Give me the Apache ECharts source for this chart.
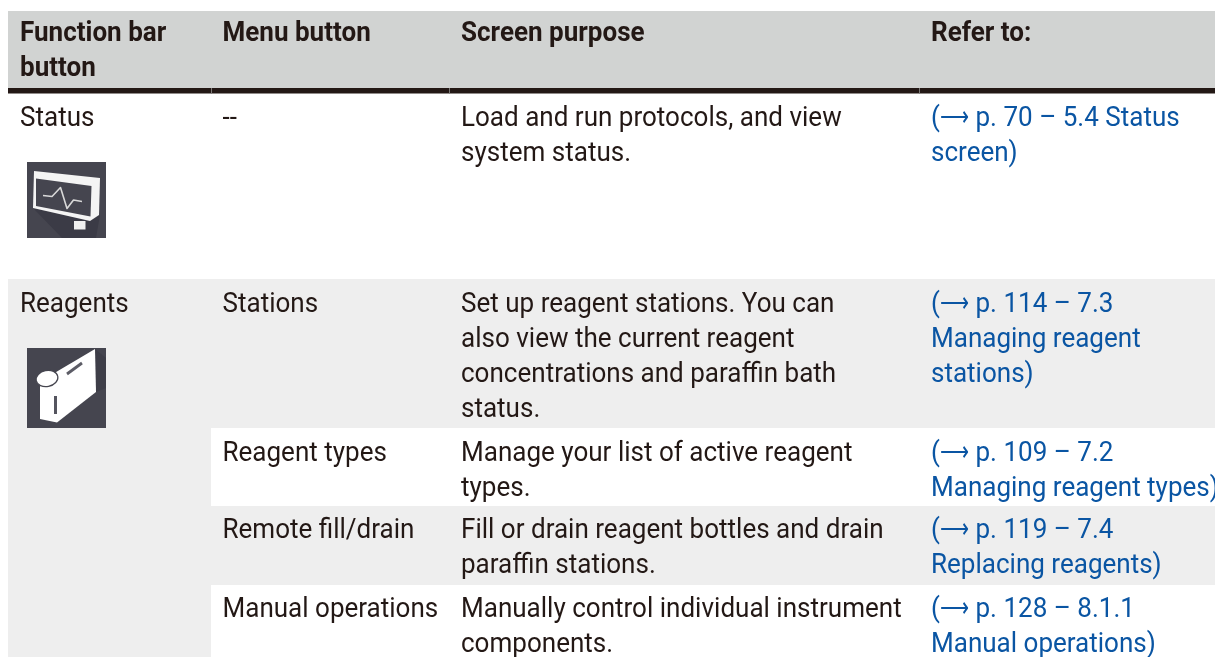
<!DOCTYPE html>
<html><head><meta charset="utf-8">
<style>html,body{margin:0;padding:0;background:#fff}#c{width:1215px;height:657px}</style>
<script src="https://cdn.jsdelivr.net/npm/echarts@6/dist/echarts.min.js"></script>
</head><body><div id="c"></div>
<script>
const headers = [["Function bar","button"],["Menu button"],["Screen purpose"],["Refer to:"]];
const col1 = [["Status"],["Reagents"]];
const col2 = [["--"],["Stations"],["Reagent types"],["Remote fill/drain"],["Manual operations"]];
const col3 = [
 ["Load and run protocols, and view","system status."],
 ["Set up reagent stations. You can","also view the current reagent","concentrations and paraffin bath","status."],
 ["Manage your list of active reagent","types."],
 ["Fill or drain reagent bottles and drain","paraffin stations."],
 ["Manually control individual instrument","components."]];
const col4 = [
 ["(→ p. 70 – 5.4 Status","screen)"],
 ["(→ p. 114 – 7.3","Managing reagent","stations)"],
 ["(→ p. 109 – 7.2","Managing reagent types)"],
 ["(→ p. 119 – 7.4","Replacing reagents)"],
 ["(→ p. 128 – 8.1.1","Manual operations)"]];

const X = [20,222.5,461,931], LH = 35, FS = 28.5, SX = 0.964*27/28.5, TOP = 21.6;
const ink='#231815', link='#0a55a3';
const els=[];
function rect(x,y,w,h,fill){els.push({type:'rect',shape:{x,y,width:w,height:h},style:{fill},silent:true});}
function poly(points,fill){els.push({type:'polygon',shape:{points},style:{fill},silent:true});}
function line(points,stroke,lw){els.push({type:'polyline',shape:{points},style:{fill:null,stroke,lineWidth:lw,lineJoin:'round'},silent:true});}
function put(t,x,y,fill,weight,sx,fs,dy){els.push({type:'text',x,y:y+(dy||0),scaleX:sx||SX,silent:true,
  style:{text:t,x:0,y:0,fill,font:(weight||400)+' '+(fs||FS)+'px Roboto',textAlign:'left'}});}
function text(lines,x,base,fill,weight){lines.forEach((t,i)=>{
  const y=base-TOP+i*LH;
  if(t.startsWith('(→ ')){
    put('(',x,y,fill,weight);
    put('⟶',x+9,y,fill,weight,0.75,27,0.5);
    put(t.slice(3),x+44.5,y,fill,weight);
  } else put(t,x,y,fill,weight);
});}

rect(8,11,1207,77,'#d1d3d2');
rect(8,88,1207,5.5,ink);
[211,449,919].forEach(x=>rect(x,88,1,5.5,'#7b7775'));
rect(8,279,1207,378,'#eeeeee');
rect(211,428,1004,78,'#ffffff');
rect(211,585,1004,72,'#ffffff');

headers.forEach((h,i)=>text(h,X[i],41,ink,700));
const rows=[126,312,461,538,617];
col1.forEach((c,i)=>text(c,X[0],rows[i],ink));
col2.forEach((c,i)=>text(c,X[1],rows[i],ink));
col3.forEach((c,i)=>text(c,X[2],rows[i],ink));
col4.forEach((c,i)=>text(c,X[3],rows[i],link));

// status icon
rect(27,162,79,76,'#45454f');
poly([[33,208],[62,238],[96,238],[100,215],[90,221]],'#3b3b46');
poly([[34,171],[100,178],[99,215],[90,221],[33,208]],'#f4f4f4');
poly([[36,178.5],[91.5,186],[90.5,216.5],[36,206]],'#45454f');
line([[43,195.5],[52,196.5],[60.5,187.5],[67,208.5],[73.5,200],[82,201.5]],'#d8d8d8',1.6);
rect(74,221,11.5,8.5,'#f0f0f0');
// reagent icon
rect(27,348,79,80,'#45454f');
poly([[95,349],[96,392],[106,388],[106,358]],'#3e3e48');
poly([[95,349],[96,392],[57,422.5],[40,419],[40,386],[46,378]],'#ffffff');
els.push({type:'ellipse',shape:{cx:47,cy:378.5,rx:11,ry:8},rotation:0.2,originX:47,originY:378.5,style:{fill:'#fff',stroke:'#45454f',lineWidth:1.2},silent:true});
line([[67,374],[82,363]],'#5c5c66',2.8);
line([[55.5,396],[55.5,414]],'#55555f',3);

const ch=echarts.init(document.getElementById('c'),null,{renderer:'canvas'});
ch.setOption({animation:false,graphic:{elements:els}});
</script></body></html>
